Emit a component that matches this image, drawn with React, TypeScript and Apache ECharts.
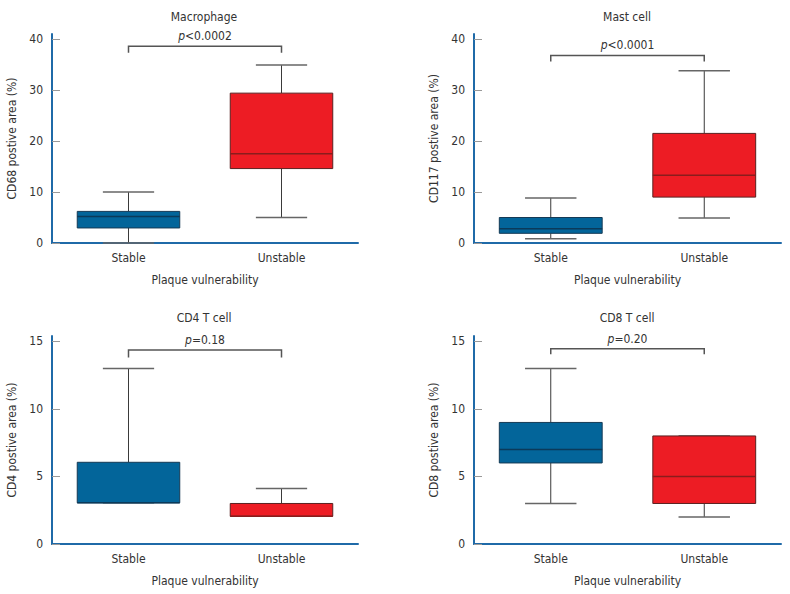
import React, { useEffect, useRef } from "react";
import * as echarts from "echarts";

const categories = ["Stable", "Unstable"];
const panelTitles = ["Macrophage", "Mast cell", "CD4 T cell", "CD8 T cell"];
const yAxisNames = [
  "CD68 postive area (%)",
  "CD117 postive area (%)",
  "CD4 postive area (%)",
  "CD8 postive area (%)",
];
const xAxisName = "Plaque vulnerability";
// [min, Q1, median, Q3, max]
const macrophageStable = [0, 2.95, 5.2, 6.2, 10];
const macrophageUnstable = [5, 14.6, 17.5, 29.4, 34.9];
const mastStable = [0.85, 1.9, 2.8, 5.0, 8.85];
const mastUnstable = [4.9, 9.0, 13.3, 21.5, 33.8];
const cd4Stable = [3.05, 3.05, 3.05, 6.05, 13];
const cd4Unstable = [2.05, 2.05, 2.05, 3.0, 4.1];
const cd8Stable = [3, 6, 7, 9, 13];
const cd8Unstable = [2, 3, 5, 8, 8];
const pLabels = ["<0.0002", "<0.0001", "=0.18", "=0.20"];
// bracket [level, end level]
const bracketLevels = [
  [38.6, 37.3],
  [36.8, 35.6],
  [14.36, 13.8],
  [14.46, 14.04],
];
const yMaxes = [41, 41, 15.4, 15.4];
const yTickValues = [
  [0, 10, 20, 30, 40],
  [0, 10, 20, 30, 40],
  [0, 5, 10, 15],
  [0, 5, 10, 15],
];
const yIntervals = [10, 10, 5, 5];

const panelData = [
  [macrophageStable, macrophageUnstable],
  [mastStable, mastUnstable],
  [cd4Stable, cd4Unstable],
  [cd8Stable, cd8Unstable],
];

const FONT = "'Liberation Sans Narrow', 'DejaVu Sans Condensed', 'Roboto', sans-serif";
const TEXT = "#333333";
const AXIS_BLUE = "#1f6aa8";
const FILLS = ["#03659a", "#ed1c24"];
const BORDERS = ["#153a55", "#5a2020"];
const MEDIANS = ["#0b3a5a", "#8a1c1c"];

const grids = [
  { left: 52, top: 34, width: 306, height: 209 },
  { left: 474, top: 34, width: 307, height: 209 },
  { left: 52, top: 336, width: 306, height: 208 },
  { left: 474, top: 336, width: 307, height: 208 },
];
const titlePos = [
  { x: 199, y: 6 },
  { x: 622, y: 6 },
  { x: 199, y: 307 },
  { x: 622, y: 307 },
];

function boxRender(params: any, api: any) {
  const idx = api.value(0);
  const vals = [1, 2, 3, 4, 5].map((i) => api.value(i));
  const x = api.coord([idx, 0])[0];
  const band = api.size([1, 0])[0];
  const bw = band * 0.67;
  const cw = bw * 0.5;
  const y = vals.map((v: number) => api.coord([idx, v])[1]);
  const di = params.dataIndex;
  const whisk = { stroke: "#3a3a3a", lineWidth: 1 };
  const cap = { stroke: "#666666", lineWidth: 1.5 };
  return {
    type: "group",
    children: [
      { type: "line", shape: { x1: x, y1: y[4], x2: x, y2: y[3] }, style: whisk },
      { type: "line", shape: { x1: x, y1: y[1], x2: x, y2: y[0] }, style: whisk },
      { type: "line", shape: { x1: x - cw / 2, y1: y[4], x2: x + cw / 2, y2: y[4] }, style: cap },
      { type: "line", shape: { x1: x - cw / 2, y1: y[0], x2: x + cw / 2, y2: y[0] }, style: cap },
      {
        type: "rect",
        shape: { x: x - bw / 2, y: y[3], width: bw, height: y[1] - y[3] },
        style: { fill: FILLS[di], stroke: BORDERS[di], lineWidth: 1 },
      },
      {
        type: "line",
        shape: { x1: x - bw / 2, y1: y[2], x2: x + bw / 2, y2: y[2] },
        style: { stroke: MEDIANS[di], lineWidth: 1.5 },
      },
    ],
  };
}

function makeBracketRender(label: string) {
  return function (params: any, api: any) {
    const a = api.value(0);
    const b = api.value(1);
    const lvl = api.value(2);
    const end = api.value(3);
    const p0 = api.coord([a, end]);
    const p1 = api.coord([a, lvl]);
    const p2 = api.coord([b, lvl]);
    const p3 = api.coord([b, end]);
    return {
      type: "group",
      children: [
        {
          type: "polyline",
          shape: { points: [p0, p1, p2, p3] },
          style: { stroke: "#555555", lineWidth: 1.5, fill: null },
        },
        {
          type: "text",
          x: (p1[0] + p2[0]) / 2,
          y: p1[1] - 10,
          style: {
            text: "{i|p}" + label,
            align: "center",
            verticalAlign: "middle",
            fontFamily: FONT,
            fontSize: 12,
            fill: TEXT,
            rich: {
              i: { fontStyle: "italic", fontFamily: FONT, fontSize: 12, fill: TEXT },
            },
          },
        },
      ],
    };
  };
}

export default function App() {
  const ref = useRef<HTMLDivElement>(null);
  useEffect(() => {
    if (!ref.current) return;
    const chart = echarts.init(ref.current, undefined, { renderer: "svg" });
    const option: any = {
      animation: false,
      backgroundColor: "#ffffff",
      title: panelTitles.map((t, i) => ({
        text: t,
        left: titlePos[i].x,
        top: titlePos[i].y,
        textAlign: "center",
        textStyle: { fontFamily: FONT, fontSize: 12, fontWeight: "normal", color: TEXT },
      })),
      grid: grids.map((g) => ({ ...g })),
      xAxis: grids.map((_, i) => ({
        type: "category",
        gridIndex: i,
        data: categories,
        boundaryGap: true,
        axisLine: { lineStyle: { color: AXIS_BLUE, width: 2 } },
        axisTick: { show: false },
        axisLabel: { fontFamily: FONT, fontSize: 12, color: TEXT, margin: 9 },
        name: xAxisName,
        nameLocation: "middle",
        nameGap: 31,
        nameTextStyle: { fontFamily: FONT, fontSize: 12, color: TEXT },
        splitLine: { show: false },
      })),
      yAxis: grids.map((_, i) => ({
        type: "value",
        gridIndex: i,
        min: 0,
        max: yMaxes[i],
        interval: yIntervals[i],
        axisLine: { show: true, lineStyle: { color: AXIS_BLUE, width: 2 } },
        axisTick: {
          show: true,
          inside: true,
          length: 8,
          lineStyle: { color: "#999999" },
          customValues: yTickValues[i],
        },
        axisLabel: {
          fontFamily: FONT,
          fontSize: 12,
          color: TEXT,
          margin: 9,
          customValues: yTickValues[i],
        },
        splitLine: { show: false },
        name: yAxisNames[i],
        nameLocation: "middle",
        nameGap: 34,
        nameRotate: 90,
        nameTextStyle: { fontFamily: FONT, fontSize: 12, color: TEXT },
      })),
      series: [
        ...panelData.map((pd, i) => ({
          type: "custom",
          xAxisIndex: i,
          yAxisIndex: i,
          renderItem: boxRender,
          encode: { x: 0, y: [1, 2, 3, 4, 5] },
          data: pd.map((v, k) => [k, ...v]),
          clip: false,
          silent: true,
        })),
        ...bracketLevels.map((bl, i) => ({
          type: "custom",
          xAxisIndex: i,
          yAxisIndex: i,
          renderItem: makeBracketRender(pLabels[i]),
          encode: { x: [0, 1], y: [2, 3] },
          data: [[0, 1, bl[0], bl[1]]],
          clip: false,
          silent: true,
        })),
      ],
    };
    chart.setOption(option);
    return () => chart.dispose();
  }, []);
  return (
    <div
      ref={ref}
      style={{ position: "absolute", left: 0, top: 0, width: 790, height: 594 }}
    />
  );
}
